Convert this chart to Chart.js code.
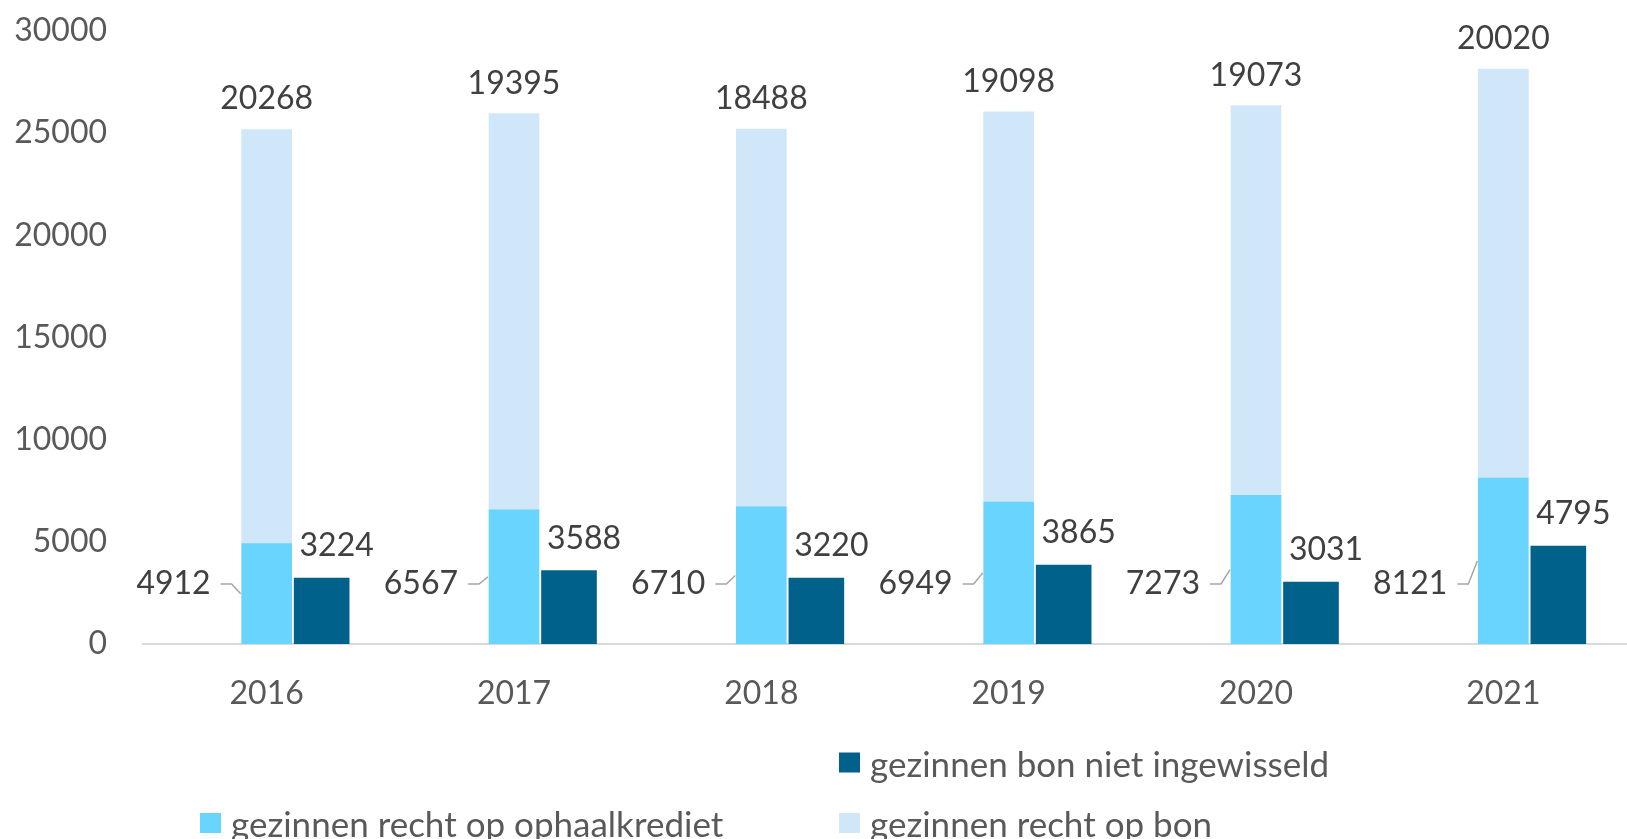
<!DOCTYPE html>
<html>
<head>
	<meta charset="utf-8">
	<title>Gezinnen recht op bon</title>
	<style>
		html, body { margin: 0; padding: 0; background: #fff; }
		#wrap { width: 1627px; height: 839px; position: relative; }
	</style>
</head>
<body>
	<div id="wrap"><canvas id="chart"></canvas></div>

	<script src="https://cdn.jsdelivr.net/npm/chart.js@4.4.0/dist/chart.umd.min.js"></script>
	<script type="text/javascript">
		// values
		const years = ['2016', '2017', '2018', '2019', '2020', '2021'];
		const rechtOphaalkrediet = [4912, 6567, 6710, 6949, 7273, 8121];
		const rechtBon = [20268, 19395, 18488, 19098, 19073, 20020];
		const bonNietIngewisseld = [3224, 3588, 3220, 3865, 3031, 4795];
		const yMin = 0, yMax = 30000, yStep = 5000;

		const FONT = 'Lato';
		const colDark = '#00628b';
		const colCyan = '#69d4fd';
		const colLight = '#d0e6f9';

		// labels above bars and left of the cyan bars (with leader line)
		const labelPlugin = {
			id: 'labels',
			afterDatasetsDraw(chart) {
				const ctx = chart.ctx;
				const base = chart.scales.y.getPixelForValue(0);
				ctx.save();
				ctx.font = '32px ' + FONT;
				ctx.fillStyle = '#404040';

				chart.getDatasetMeta(2).data.forEach((bar, i) => {
					ctx.textAlign = 'center';
					ctx.textBaseline = 'alphabetic';
					ctx.fillText(rechtBon[i], bar.x, bar.y - 20);
				});
				chart.getDatasetMeta(3).data.forEach((bar, i) => {
					ctx.textAlign = 'center';
					ctx.textBaseline = 'alphabetic';
					ctx.fillText(bonNietIngewisseld[i], bar.x + 15, bar.y - 22);
				});
				chart.getDatasetMeta(1).data.forEach((bar, i) => {
					const left = bar.x - bar.width / 2;
					const mid = (bar.y + bar.base) / 2;
					const ly = base - 60;
					const right = left - 31;
					ctx.textAlign = 'right';
					ctx.textBaseline = 'middle';
					ctx.fillStyle = '#404040';
					ctx.fillText(rechtOphaalkrediet[i], right, ly);
					ctx.beginPath();
					ctx.strokeStyle = '#a6a6a6';
					ctx.lineWidth = 1.5;
					ctx.moveTo(right + 10, ly);
					ctx.lineTo(right + 21, ly);
					ctx.lineTo(left - 1, mid);
					ctx.stroke();
				});
				ctx.restore();
			}
		};

		// legend laid out in two columns like the original
		const legendPlugin = {
			id: 'gridLegend',
			afterDraw(chart) {
				const items = [
					{ text: 'gezinnen bon niet ingewisseld', color: colDark, x: 839, y: 762.5 },
					{ text: 'gezinnen recht op ophaalkrediet', color: colCyan, x: 200, y: 823 },
					{ text: 'gezinnen recht op bon', color: colLight, x: 839, y: 823 }
				];
				const ctx = chart.ctx;
				ctx.save();
				ctx.font = '35px ' + FONT;
				ctx.textAlign = 'left';
				ctx.textBaseline = 'middle';
				items.forEach(it => {
					ctx.fillStyle = it.color;
					ctx.fillRect(it.x, it.y - 10, 21, 20);
					ctx.fillStyle = '#595959';
					ctx.fillText(it.text, it.x + 31, it.y + 3);
				});
				ctx.restore();
			}
		};

		const ctx = document.getElementById('chart').getContext('2d');
		const chart = new Chart(ctx, {
			type: 'bar',
			data: {
				labels: years,
				datasets: [
					{
						label: 'leeg',
						data: years.map(() => null),
						stack: 'leeg',
						barThickness: 50,
						backgroundColor: 'rgba(0,0,0,0)'
					},
					{
						label: 'gezinnen recht op ophaalkrediet',
						data: rechtOphaalkrediet,
						stack: 'recht',
						barThickness: 50,
						backgroundColor: colCyan
					},
					{
						label: 'gezinnen recht op bon',
						data: rechtBon,
						stack: 'recht',
						barThickness: 50,
						backgroundColor: colLight
					},
					{
						label: 'gezinnen bon niet ingewisseld',
						data: bonNietIngewisseld,
						stack: 'niet',
						barThickness: 55,
						backgroundColor: colDark
					}
				]
			},
			options: {
				responsive: true,
				maintainAspectRatio: false,
				animation: false,
				layout: { padding: { top: 31, right: 0, left: 0, bottom: 0 } },
				plugins: {
					legend: { display: false },
					tooltip: { enabled: false }
				},
				scales: {
					x: {
						stacked: true,
						grid: { display: false, drawTicks: false },
						border: { display: true, color: '#d9d9d9', width: 2 },
						ticks: {
							color: '#595959',
							font: { family: FONT, size: 32 },
							padding: 30,
							maxRotation: 0
						},
						afterFit(scale) { scale.height = 195; }
					},
					y: {
						stacked: true,
						min: yMin,
						max: yMax,
						grid: { display: false, drawTicks: false },
						border: { display: false },
						ticks: {
							stepSize: yStep,
							color: '#595959',
							font: { family: FONT, size: 32 },
							padding: 36,
							callback: v => String(v)
						},
						afterFit(scale) {
							scale.width = 143;
							scale.paddingTop = 0;
							scale.paddingBottom = 0;
						}
					}
				}
			},
			plugins: [labelPlugin, legendPlugin]
		});
	</script>
</body>
</html>
